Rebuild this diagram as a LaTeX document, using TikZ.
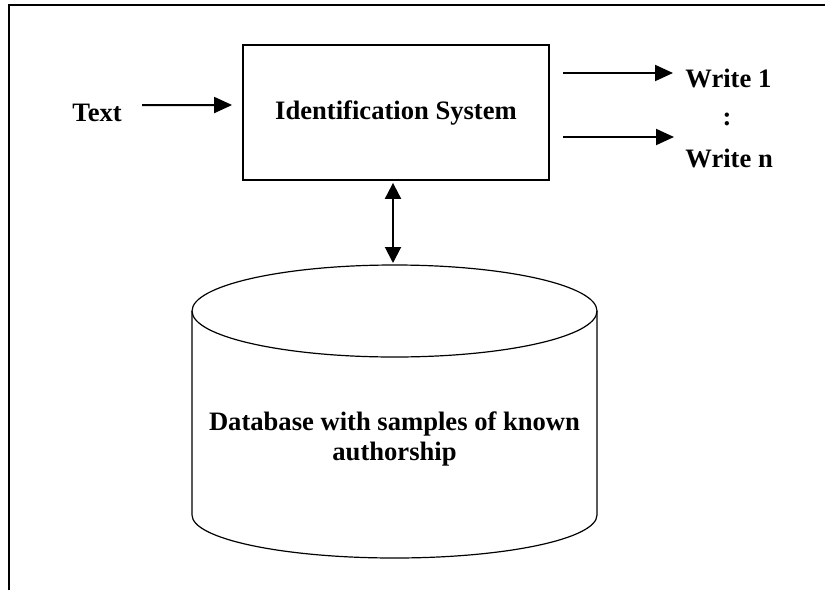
\documentclass[tikz,border=0pt]{standalone}
\usepackage{fontspec}
\setmainfont{Liberation Serif}
\usepackage{tikz}
\usetikzlibrary{arrows.meta,positioning,calc}
\tikzset{
  sysbox/.style={
    draw=black,
    line width=0.9pt,
    align=center,
    minimum width=153pt,
    minimum height=67.5pt,
    font=\fontsize{13.3}{15}\selectfont\bfseries
  },
  lbl/.style={
    inner sep=0pt,
    align=center,
    font=\fontsize{13.3}{15}\selectfont\bfseries
  },
  flow/.style={
    -{Triangle[length=9pt,width=8pt]},
    line width=1pt,
    draw=black
  },
  dbarrow/.style={
    {Triangle[length=8pt,width=8pt]}-{Triangle[length=8pt,width=8pt]},
    line width=1pt,
    draw=black
  },
  dbline/.style={
    draw=black,
    line width=0.6pt
  },
  frameline/.style={
    draw=black,
    line width=1pt
  }
}
\begin{document}
\begin{tikzpicture}[x=0.5pt,y=0.5pt]
  \useasboundingbox (0,0) rectangle (825,-590);
  \draw[frameline] (9,-590) -- (9,-5) -- (825,-5);

  \node[sysbox] (sys) at (396,-112.5) {Identification System};
  \node[lbl, left=60pt of sys] (txt) {Text};
  \node[lbl, anchor=base west] (w1) at (685,-87) {Write 1};
  \node[lbl, anchor=base] (dots) at (727,-125) {:};
  \node[lbl, anchor=base west] (wn) at (685,-167) {Write n};

  \draw[dbline] (192,-311) -- (192,-515)
    arc[start angle=180, end angle=360, x radius=202.5, y radius=43] -- (597,-311);
  \draw[dbline] (394.5,-311) ellipse [x radius=202.5, y radius=46];
  \coordinate (dbtop) at (393,-265);
  \node[lbl] (db) at (394.5,-438.5) {Database with samples of known\\authorship};

  \draw[flow] ([xshift=10pt,yshift=3.7pt]txt.east) -- ([xshift=-5pt,yshift=3.75pt]sys.west);
  \draw[flow, shorten >=6pt] ([xshift=6.5pt,yshift=19.75pt]sys.east) -- ([yshift=19.75pt]sys.east -| w1.west);
  \draw[flow, shorten >=5.5pt] ([xshift=6.5pt,yshift=-12.25pt]sys.east) -- ([yshift=-12.25pt]sys.east -| wn.west);
  \draw[dbarrow, shorten <=1pt, shorten >=1pt] (sys.south -| dbtop) -- (dbtop);
\end{tikzpicture}
\end{document}
